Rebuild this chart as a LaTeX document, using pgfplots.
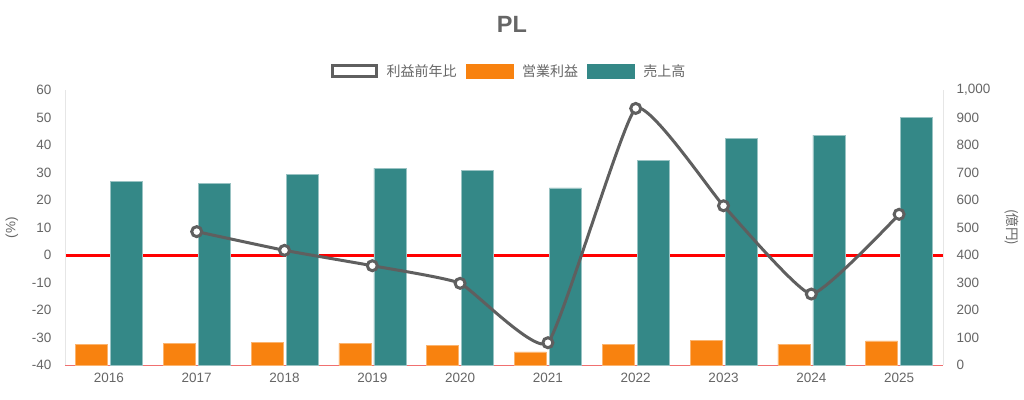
\documentclass[border=0pt]{standalone}
\usepackage{fontspec}
\setmainfont{Liberation Sans}
\newfontfamily\jp{Noto Sans CJK JP}
\usepackage{pgfplots}
\pgfplotsset{compat=1.18}
\definecolor{tealc}{HTML}{348887}
\definecolor{orangec}{HTML}{F8820F}
\definecolor{linec}{HTML}{5F5F5F}
\definecolor{txt}{HTML}{666666}
\definecolor{axisc}{HTML}{E6E6E6}
\definecolor{botc}{HTML}{F07070}
\begin{document}
\begin{tikzpicture}[x=1pt,y=1pt]
\useasboundingbox (-65,-34) rectangle (959,365);
\pgfplotsset{
  base/.style={scale only axis, width=878pt, height=275pt, xmin=-0.5, xmax=9.5,
    at={(0,0)}, anchor=south west,
    /pgf/number format/assume math mode=true,
    tick label style={font=\fontsize{13.5}{15}\selectfont, text=txt},
    major tick length=0pt, minor tick length=0pt,
    axis line style={-}},
}
\begin{axis}[base, ymin=0, ymax=1000,
  axis y line*=right, axis x line*=bottom,
  x axis line style={draw=botc, line width=1pt, -},
  y axis line style={draw=axisc, line width=1pt, -},
  xtick={0,...,9}, xticklabels={2016,2017,2018,2019,2020,2021,2022,2023,2024,2025},
  xticklabel style={yshift=-5pt},
  ytick={0,100,...,1000},
  yticklabel style={xshift=10pt, anchor=west},
  ylabel={\jp (億円)},
  every axis y label/.style={at={(axis description cs:1,0.5)}, xshift=69pt, rotate=-90, anchor=center, font=\fontsize{13.5}{15}\selectfont, text=txt},
]
\draw[red, line width=3pt] ([xshift=-10pt]axis cs:-0.5,400) -- (axis cs:9.5,400);
\addplot[ybar, bar width=32pt, bar shift=-17.5pt, fill=orangec, draw=orangec!60!white, line width=0.6pt] coordinates {
(0,74) (1,80) (2,82) (3,79) (4,70) (5,48) (6,74) (7,89) (8,76) (9,88)};
\addplot[ybar, bar width=32pt, bar shift=17.5pt, fill=tealc, draw=tealc!50!white, line width=0.6pt] coordinates {
(0,667) (1,661) (2,692) (3,716) (4,707) (5,644) (6,745) (7,824) (8,836) (9,901)};
\end{axis}
\begin{axis}[base, ymin=-40, ymax=60,
  axis y line*=left, axis x line=none,
  y axis line style={draw=axisc, line width=1pt, -},
  ytick={-40,-30,...,60},
  yticklabel style={xshift=-10pt, anchor=east},
  ylabel={(\%)},
  every axis y label/.style={at={(axis description cs:0,0.5)}, xshift=-53pt, rotate=90, anchor=center, font=\fontsize{13.5}{15}\selectfont, text=txt},
  legend columns=3,
  legend style={draw=none, fill=none, at={(0.5057,1.069)}, anchor=center,
    font=\jp\fontsize{14}{16}\selectfont, text=txt,
    /tikz/every odd column/.append style={column sep=7pt},
    /tikz/every even column/.append style={column sep=7pt}},
]
\addlegendimage{legend image code/.code={\draw[linec, line width=3pt, fill=white] (1.5pt,-5.5pt) rectangle (45.5pt,5.5pt);}}
\addlegendentry{利益前年比}
\addlegendimage{legend image code/.code={\fill[orangec] (0pt,-7pt) rectangle (47pt,7pt);}}
\addlegendentry{営業利益}
\addlegendimage{legend image code/.code={\fill[tealc] (0pt,-7pt) rectangle (47pt,7pt);}}
\addlegendentry{売上高}
\addplot[forget plot, linec, line width=3pt, smooth, tension=0.25, mark=*, mark size=5pt,
  mark options={fill=white, draw=linec, line width=3pt}] coordinates {
(1,8.5) (2,1.7) (3,-3.9) (4,-10.3) (5,-31.9) (6,53.3) (7,17.9) (8,-14.2) (9,14.8)};
\end{axis}
\node[font=\bfseries\fontsize{23.5}{26}\selectfont, text=txt] at (447,341) {PL};
\end{tikzpicture}
\end{document}
